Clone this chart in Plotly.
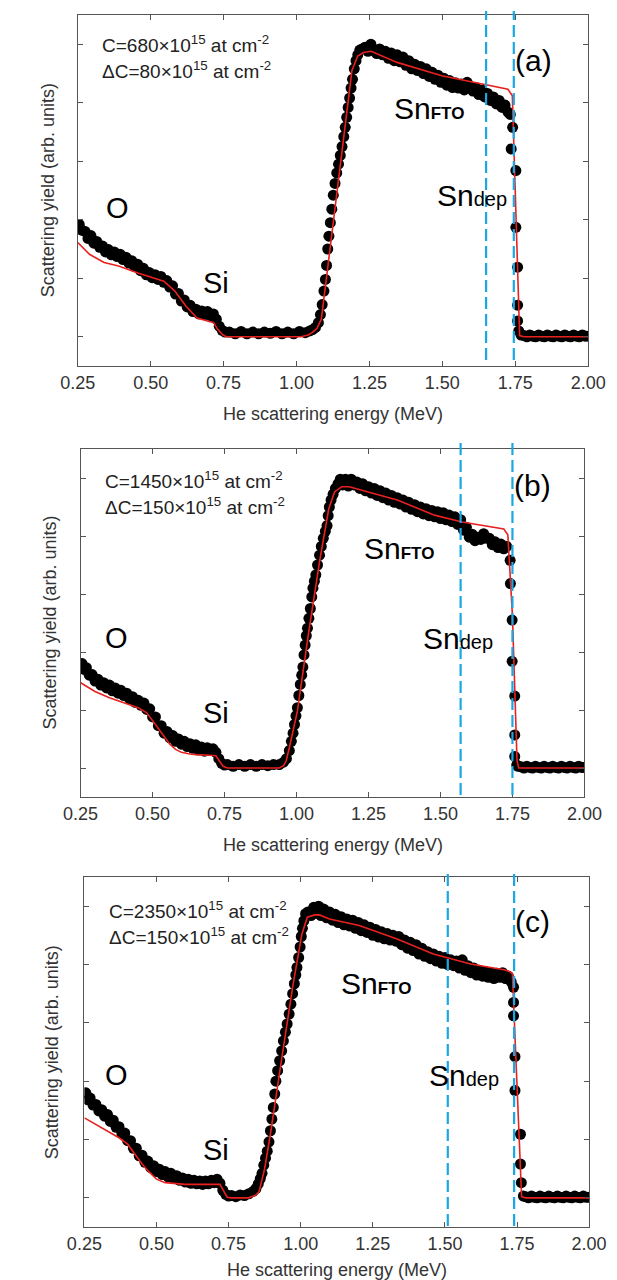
import plotly.graph_objects as go

# ---------------- data: panel (a) ----------------
E_a = [0.255,0.265,0.275,0.285,0.295,0.305,0.315,0.325,0.335,0.345,0.355,0.365,0.375,0.385,0.395,
       0.405,0.415,0.425,0.435,0.445,0.455,0.465,0.475,0.485,0.495,0.505,0.515,0.525,0.535,0.545,
       0.555,0.565,0.575,0.585,0.595,0.605,0.615,0.625,0.635,0.645,0.655,0.665,0.675,0.685,0.695,
       0.705,0.715,0.725,0.735,0.745,0.755,
       0.77,0.79,0.81,0.83,0.85,0.87,0.89,0.91,0.93,0.95,0.97,0.99,1.01,1.03,1.045,
       1.055,1.065,1.075,1.082,1.088,1.094,1.099,1.103,1.107,1.111,1.116,1.121,1.126,1.132,1.138,
       1.144,1.150,1.156,1.162,1.167,1.172,1.177,1.182,1.187,1.192,1.198,1.204,1.210,1.217,1.225,
       1.235,1.245,1.255,1.265,1.275,1.285,1.295,1.305,1.315,1.325,1.335,1.345,1.355,1.365,1.375,
       1.385,1.395,1.405,1.415,1.425,1.435,1.445,1.455,1.465,1.475,1.485,1.495,1.505,1.515,1.525,
       1.535,1.545,1.555,1.565,1.575,1.585,1.595,1.605,1.615,1.625,1.635,1.645,1.655,1.665,1.675,
       1.685,1.695,1.705,1.715,1.725,1.733,
       1.741,1.736,1.752,1.752,1.758,1.758,1.758,1.762,
       1.77,1.78,1.79,1.80,1.81,1.82,1.83,1.84,1.85,1.86,1.87,1.88,1.89,1.90,1.91,1.92,1.93,1.94,
       1.95,1.96,1.97,1.98,1.99,2.00]
Y_a = [1.92,1.82,1.80,1.68,1.73,1.60,1.63,1.53,1.55,1.45,1.49,1.40,1.45,1.37,1.41,
       1.32,1.36,1.26,1.30,1.20,1.24,1.13,1.17,1.06,1.10,1.01,1.06,0.98,1.03,0.93,
       0.96,0.85,0.87,0.73,0.74,0.61,0.63,0.51,0.54,0.43,0.47,0.39,0.44,0.38,0.43,
       0.36,0.39,0.30,0.18,0.11,0.08,
       0.08,0.05,0.09,0.05,0.08,0.05,0.08,0.06,0.09,0.05,0.08,0.05,0.09,0.07,0.10,
       0.12,0.16,0.24,0.38,0.55,0.78,0.98,1.22,1.50,1.72,1.95,2.18,2.42,2.62,2.80,
       2.95,3.10,3.25,3.42,3.58,3.75,3.92,4.08,4.25,4.40,4.58,4.72,4.82,4.90,4.92,
       4.95,4.88,5.00,4.90,4.84,4.92,4.82,4.88,4.76,4.85,4.72,4.82,4.70,4.78,4.64,
       4.72,4.58,4.66,4.55,4.62,4.50,4.58,4.45,4.52,4.40,4.47,4.35,4.42,4.30,4.38,
       4.26,4.34,4.25,4.32,4.22,4.35,4.28,4.20,4.26,4.14,4.22,4.10,4.16,4.04,4.10,
       3.98,4.04,3.92,3.96,3.84,3.80,
       3.58,3.21,2.84,1.87,1.19,0.54,0.27,0.10,
       0.03,0.02,0.00,0.03,0.01,0.00,0.03,0.01,0.00,0.03,0.01,0.00,0.03,0.01,0.00,0.03,0.01,0.00,
       0.03,0.01,0.00,0.03,0.01,0.01]
Ef_a = [0.25,0.29,0.34,0.39,0.456,0.507,0.545,0.583,0.621,0.659,0.697,0.716,0.729,0.748,0.76,
        1.015,1.04,1.053,1.07,1.085,1.10,1.14,1.19,1.21,1.23,1.256,1.345,1.498,1.644,1.725,1.74,
        1.765,1.78,2.0]
Yf_a = [1.61,1.41,1.27,1.21,1.09,1.01,0.95,0.78,0.52,0.32,0.27,0.24,0.13,0.03,0.0,
        0.0,0.03,0.07,0.14,0.30,0.90,2.50,4.55,4.80,4.86,4.88,4.69,4.46,4.32,4.23,4.12,
        0.02,0.0,0.0]

# ---------------- data: panel (b) ----------------
E_b = [0.255,0.262,0.270,0.280,0.290,0.300,0.310,0.320,0.330,0.340,0.350,0.360,0.370,0.380,0.390,
       0.400,0.410,0.420,0.430,0.440,0.450,0.460,0.470,0.480,0.490,0.500,0.510,0.520,0.530,0.540,
       0.550,0.560,0.570,0.580,0.590,0.600,0.610,0.620,0.630,0.640,0.650,0.660,0.670,0.680,0.690,
       0.700,0.710,0.720,0.730,0.740,0.750,
       0.76,0.78,0.80,0.82,0.84,0.86,0.88,0.90,0.92,0.94,
       0.955,0.965,0.975,0.982,0.988,0.993,0.998,1.003,1.008,1.013,1.018,1.022,1.026,1.030,1.034,
       1.038,1.043,1.048,1.053,1.057,1.062,1.067,1.073,1.080,1.086,1.093,1.100,1.106,1.110,1.114,
       1.120,1.127,1.135,1.144,1.152,1.160,1.170,1.180,1.190,1.200,1.210,1.220,1.230,1.240,1.250,
       1.260,1.270,1.280,1.290,1.300,1.310,1.320,1.330,1.340,1.350,1.360,1.370,1.380,1.390,1.400,
       1.410,1.420,1.430,1.440,1.450,1.460,1.470,1.480,1.490,1.500,1.510,1.520,1.530,1.540,1.550,
       1.560,1.570,1.580,1.590,1.600,1.610,1.620,1.630,1.640,1.650,1.660,1.670,1.680,1.690,1.700,
       1.710,1.720,1.730,
       1.742,1.743,1.749,1.749,1.758,1.758,1.758,1.765,
       1.77,1.78,1.79,1.80,1.81,1.82,1.83,1.84,1.85,1.86,1.87,1.88,1.89,1.90,1.91,1.92,1.93,1.94,
       1.95,1.96,1.97,1.98,1.99,2.00]
Y_b = [1.80,1.70,1.73,1.60,1.61,1.50,1.53,1.43,1.47,1.38,1.43,1.33,1.38,1.29,1.34,
       1.25,1.29,1.19,1.23,1.13,1.17,1.08,1.12,1.01,1.02,0.88,0.88,0.73,0.73,0.60,
       0.63,0.52,0.56,0.46,0.50,0.41,0.46,0.37,0.42,0.34,0.40,0.31,0.36,0.29,0.35,
       0.30,0.33,0.27,0.16,0.08,0.05,
       0.06,0.03,0.06,0.03,0.06,0.03,0.06,0.04,0.06,0.06,
       0.10,0.16,0.30,0.46,0.60,0.75,0.90,1.04,1.25,1.44,1.60,1.74,1.95,2.12,2.28,
       2.41,2.58,2.75,2.95,3.10,3.22,3.33,3.50,3.67,3.82,3.96,4.08,4.18,4.35,4.50,
       4.62,4.72,4.82,4.90,4.98,4.88,4.98,4.86,4.98,4.88,4.93,4.82,4.90,4.78,4.85,
       4.74,4.82,4.70,4.78,4.66,4.74,4.62,4.70,4.58,4.66,4.55,4.62,4.50,4.58,4.46,
       4.54,4.42,4.50,4.38,4.47,4.35,4.44,4.33,4.42,4.30,4.40,4.28,4.36,4.25,4.33,
       4.20,4.28,4.10,4.15,3.98,4.03,3.92,3.98,3.94,4.04,3.96,3.96,3.85,3.90,3.80,
       3.86,3.78,3.82,
       3.58,3.18,2.55,1.84,1.24,0.57,0.20,0.05,
       0.03,0.02,0.00,0.03,0.01,0.00,0.03,0.01,0.00,0.03,0.01,0.00,0.03,0.01,0.00,0.03,0.01,0.00,
       0.03,0.01,0.00,0.03,0.01,0.01]
Ef_b = [0.25,0.30,0.35,0.40,0.45,0.48,0.52,0.56,0.58,0.60,0.63,0.65,0.70,0.72,0.735,0.745,0.76,
        0.94,0.955,0.964,0.975,1.003,1.041,1.08,1.112,1.132,1.157,1.183,1.35,1.479,1.575,
        1.72,1.734,1.750,1.766,1.772,2.0]
Yf_b = [1.47,1.32,1.21,1.12,1.04,0.95,0.69,0.41,0.32,0.27,0.24,0.23,0.22,0.21,0.10,0.03,0.0,
        0.0,0.04,0.12,0.35,0.98,2.30,3.56,4.47,4.76,4.85,4.85,4.62,4.36,4.24,
        4.12,4.02,2.63,0.12,0.0,0.0]

# ---------------- data: panel (c) ----------------
E_c = [0.255,0.262,0.270,0.280,0.290,0.300,0.310,0.320,0.330,0.340,0.350,0.360,0.370,0.380,0.390,
       0.400,0.410,0.420,0.430,0.440,0.450,0.460,0.470,0.480,0.490,0.500,0.510,0.520,0.530,0.540,
       0.550,0.560,0.570,0.580,0.590,0.600,0.610,0.620,0.630,0.640,0.650,0.660,0.670,0.680,0.690,
       0.700,0.710,0.720,0.730,0.740,0.750,
       0.760,0.775,0.790,0.805,0.820,0.835,0.845,0.853,0.860,0.866,0.872,0.878,0.884,0.890,0.895,
       0.900,0.905,0.910,0.914,0.920,0.927,0.934,0.940,0.947,0.953,0.960,0.966,0.972,0.978,0.983,
       0.987,0.993,0.998,1.002,1.006,1.011,1.017,1.025,1.036,1.045,1.055,1.062,1.070,1.080,1.090,
       1.100,1.110,1.120,1.130,1.140,1.150,1.160,1.170,1.180,1.190,1.200,1.210,1.220,1.230,1.240,
       1.250,1.260,1.270,1.280,1.290,1.300,1.310,1.320,1.330,1.340,1.350,1.360,1.370,1.380,1.390,
       1.400,1.410,1.420,1.430,1.440,1.450,1.460,1.470,1.480,1.490,1.500,1.510,1.520,1.530,1.540,
       1.550,1.560,1.570,1.580,1.590,1.600,1.610,1.620,1.630,1.640,1.650,1.660,1.670,1.680,1.690,
       1.700,1.710,1.720,1.730,
       1.738,1.738,1.738,1.743,1.743,1.762,1.762,1.765,
       1.772,1.78,1.79,1.80,1.81,1.82,1.83,1.84,1.85,1.86,1.87,1.88,1.89,1.90,1.91,1.92,1.93,1.94,
       1.95,1.96,1.97,1.98,1.99,2.00]
Y_c = [1.80,1.68,1.71,1.59,1.60,1.49,1.51,1.40,1.43,1.31,1.33,1.21,1.22,1.10,1.11,
       0.98,0.98,0.85,0.85,0.72,0.73,0.61,0.63,0.52,0.55,0.45,0.49,0.40,0.45,0.36,
       0.42,0.33,0.38,0.30,0.34,0.27,0.32,0.25,0.30,0.24,0.29,0.23,0.29,0.24,0.30,
       0.26,0.32,0.25,0.13,0.06,0.03,
       0.04,0.02,0.05,0.04,0.07,0.11,0.16,0.24,0.33,0.42,0.56,0.68,0.80,0.96,1.15,
       1.35,1.55,1.78,2.00,2.18,2.35,2.52,2.69,2.84,2.98,3.15,3.32,3.50,3.67,3.82,
       3.95,4.12,4.30,4.48,4.62,4.75,4.87,4.90,4.84,4.98,4.88,5.00,4.84,4.95,4.80,
       4.90,4.76,4.86,4.72,4.82,4.68,4.78,4.66,4.76,4.62,4.72,4.58,4.68,4.55,4.64,
       4.50,4.60,4.47,4.56,4.44,4.53,4.42,4.50,4.40,4.48,4.34,4.42,4.28,4.38,4.24,
       4.34,4.18,4.28,4.14,4.22,4.10,4.18,4.06,4.14,4.02,4.12,4.00,4.08,3.98,4.06,
       3.94,4.08,3.90,3.98,3.86,3.94,3.82,3.90,3.80,3.88,3.78,3.86,3.76,3.85,3.78,
       3.86,3.76,3.80,3.70,
       3.61,3.35,3.12,2.42,1.84,1.09,0.58,0.26,
       0.03,0.02,0.00,0.03,0.01,0.00,0.03,0.01,0.00,0.03,0.01,0.00,0.03,0.01,0.00,0.03,0.01,0.00,
       0.03,0.01,0.00,0.03,0.01,0.01]
Ef_c = [0.25,0.30,0.33,0.37,0.40,0.425,0.45,0.475,0.50,0.53,0.60,0.72,0.735,0.745,0.76,
        0.82,0.845,0.856,0.875,0.895,0.933,0.972,1.004,1.023,1.049,1.065,1.10,1.203,1.332,1.46,
        1.589,1.705,1.724,1.734,1.766,1.78,2.0]
Yf_c = [1.37,1.23,1.15,1.03,0.92,0.74,0.58,0.44,0.32,0.26,0.23,0.23,0.10,0.01,0.0,
        0.0,0.05,0.11,0.50,1.09,2.35,3.61,4.52,4.81,4.85,4.85,4.78,4.67,4.44,4.18,
        4.01,3.91,3.88,3.84,0.02,0.0,0.0]

# tick labels and annotation texts
X_TICKS = [0.25, 0.50, 0.75, 1.00, 1.25, 1.50, 1.75, 2.00]
X_TICKTEXT = ["0.25", "0.50", "0.75", "1.00", "1.25", "1.50", "1.75", "2.00"]
Y_TICKS = [0, 1, 2, 3, 4, 5]
PANEL_LABELS = ["(a)", "(b)", "(c)"]
C_TEXT = ["C=680×10<sup>15</sup> at cm<sup>-2</sup>",
          "C=1450×10<sup>15</sup> at cm<sup>-2</sup>",
          "C=2350×10<sup>15</sup> at cm<sup>-2</sup>"]
DC_TEXT = ["ΔC=80×10<sup>15</sup> at cm<sup>-2</sup>",
           "ΔC=150×10<sup>15</sup> at cm<sup>-2</sup>",
           "ΔC=150×10<sup>15</sup> at cm<sup>-2</sup>"]
DASH_E = [[1.65, 1.745], [1.57, 1.75], [1.51, 1.74]]
X_TITLE = "He scattering energy (MeV)"
Y_TITLE = "Scattering yield (arb. units)"

# ---------------- layout geometry (pixels) ----------------
W, H = 617, 1280
FONT = "Liberation Sans, Arial, sans-serif"
panels = [
    dict(E=E_a, Y=Y_a, Ef=Ef_a, Yf=Yf_a, box=(55, 597, 7, 358), xt=406,
         O=(97, 200), Si=(202, 275), fto=(428, 101), dep=(474, 187), lab=(539, 52),
         c1=(79, 36), c2=(79, 62), dash=(3, 352), ytx=23),
    dict(E=E_b, Y=Y_b, Ef=Ef_b, Yf=Yf_b, box=(58, 593, 441, 789), xt=837,
         O=(96, 630), Si=(202, 705), fto=(396, 540), dep=(459, 630), lab=(538, 477),
         c1=(82, 472), c2=(82, 498), dash=(433, 787), ytx=25),
    dict(E=E_c, Y=Y_c, Ef=Ef_c, Yf=Yf_c, box=(62, 598, 869, 1219), xt=1262,
         O=(96, 1067), Si=(202, 1142), fto=(372, 975), dep=(465, 1067), lab=(538, 913),
         c1=(86, 902), c2=(86, 928), dash=(865, 1218), ytx=28),
]

def px(x, y):
    return x / W, 1 - y / H

fig = go.Figure()
annotations = []
shapes = []
for i, p in enumerate(panels):
    n = "" if i == 0 else str(i + 1)
    xa, ya = "x" + n, "y" + n
    fig.add_trace(go.Scatter(x=p["E"], y=p["Y"], mode="markers", xaxis=xa, yaxis=ya,
                             marker=dict(color="black", size=11, line=dict(width=0)),
                             showlegend=False, hoverinfo="skip"))
    fig.add_trace(go.Scatter(x=p["Ef"], y=p["Yf"], mode="lines", xaxis=xa, yaxis=ya,
                             line=dict(color="#e8211f", width=1.6),
                             showlegend=False, hoverinfo="skip"))
    x0, x1, yt, yb = p["box"]
    axis_common = dict(showline=True, linecolor="#555", linewidth=1, mirror="ticks",
                       ticks="inside", ticklen=5, tickcolor="#555", showgrid=False,
                       zeroline=False)
    fig.update_layout(**{
        "xaxis" + n: dict(domain=[x0 / W, x1 / W], range=[0.25, 2.0], tickvals=X_TICKS,
                          ticktext=X_TICKTEXT, anchor=ya,
                          tickfont=dict(family=FONT, size=18, color="#333"), **axis_common),
        "yaxis" + n: dict(domain=[1 - yb / H, 1 - yt / H], range=[-0.5, 5.5], tickvals=Y_TICKS,
                          showticklabels=False, anchor=xa, **axis_common),
    })
    for e in DASH_E[i]:
        shapes.append(dict(type="line", xref=xa, yref="paper", x0=e, x1=e,
                           y0=px(0, p["dash"][1])[1], y1=px(0, p["dash"][0])[1],
                           line=dict(color="#1aa7e6", width=2.2, dash="12px,5px")))
    def ann(text, pos, size, xanchor="center", color="black"):
        ax, ay = px(*pos)
        annotations.append(dict(text=text, x=ax, y=ay, xref="paper", yref="paper",
                                xanchor=xanchor, yanchor="middle", showarrow=False,
                                font=dict(family=FONT, size=size, color=color)))
    ann(C_TEXT[i], p["c1"], 19, "left", "#222")
    ann(DC_TEXT[i], p["c2"], 19, "left", "#222")
    ann("O", p["O"], 29)
    ann("Si", p["Si"], 29)
    ann('Sn<span style="font-size:17px"><b>FTO</b></span>', p["fto"], 30)
    ann('Sn<span style="font-size:20px">dep</span>', p["dep"], 30)
    ann(PANEL_LABELS[i], p["lab"], 30)
    ann(X_TITLE, ((x0 + x1) / 2, p["xt"]), 18, "center", "#333")
    ax_, ay_ = px(p["ytx"], (yt + yb) / 2)
    annotations.append(dict(text=Y_TITLE, x=ax_, y=ay_, xref="paper", yref="paper",
                            xanchor="center", yanchor="middle", showarrow=False, textangle=-90,
                            font=dict(family=FONT, size=18, color="#333")))

fig.update_layout(width=W, height=H, margin=dict(l=0, r=0, t=0, b=0),
                  paper_bgcolor="white", plot_bgcolor="white",
                  annotations=annotations, shapes=shapes)
fig.write_html("out.html")
